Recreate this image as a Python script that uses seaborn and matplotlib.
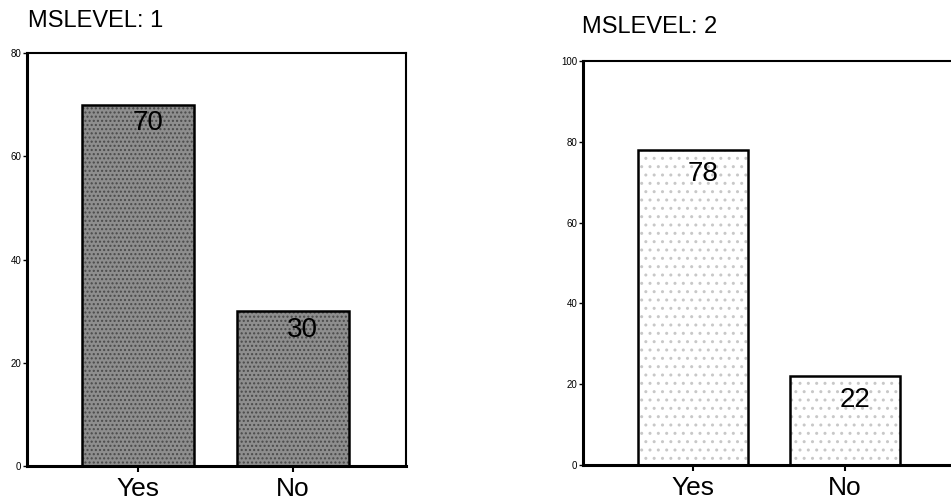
import matplotlib
matplotlib.use("Agg")
import matplotlib.pyplot as plt
import seaborn as sns
import pandas as pd

categories = ["Yes", "No"]
level1_values = [70, 30]
level2_values = [78, 22]
titles = ["MSLEVEL: 1", "MSLEVEL: 2"]
level1_yticks = [0, 20, 40, 60, 80]
level2_yticks = [0, 20, 40, 60, 80, 100]

sns.set_theme(style="white")
plt.rcParams["font.family"] = ["Liberation Sans", "DejaVu Sans"]
plt.rcParams["text.color"] = "black"

fig = plt.figure(figsize=(9.51, 5.04), dpi=100)
W, H = 951, 504

def axes_px(x0, x1, top, bottom):
    return fig.add_axes([x0 / W, 1 - bottom / H, (x1 - x0) / W, (bottom - top) / H])

ax1 = axes_px(27, 406, 53, 466)
ax2 = axes_px(583, 962, 61, 465)

panels = [
    (ax1, level1_values, level1_yticks, "#8e8e8e", "#4a4a4a", "....", (-0.716, 1.729), -4, (28, 27)),
    (ax2, level2_values, level2_yticks, "#ffffff", "#c8c8c8", "..", (-0.724, 1.77), -8, (582, 33)),
]

for (ax, vals, yt, face, hatchc, hatch, xl, dy, tpos), title in zip(panels, titles):
    df = pd.DataFrame({"cat": categories, "val": vals})
    # textured fill layer
    sns.barplot(data=df, x="cat", y="val", order=categories, ax=ax, width=0.72,
                color=face, saturation=1, edgecolor=hatchc, linewidth=0,
                hatch=hatch, errorbar=None)
    # outline layer
    sns.barplot(data=df, x="cat", y="val", order=categories, ax=ax, width=0.72,
                fill=False, edgecolor="black", linewidth=1.8, errorbar=None)
    ax.set_xlim(*xl)
    ax.set_ylim(yt[0], yt[-1])
    ax.set_yticks(yt)
    ax.set_xlabel("")
    ax.set_ylabel("")
    ax.tick_params(axis="y", labelsize=7, length=3, width=1, pad=1, left=True,
                   colors="black", labelcolor="black")
    ax.tick_params(axis="x", labelsize=19, length=4, width=1.5, pad=4, bottom=True,
                   colors="black", labelcolor="black")
    for sp in ax.spines.values():
        sp.set_visible(True)
        sp.set_color("black")
        sp.set_linewidth(1.5)
    ax.spines["left"].set_linewidth(2.2)
    ax.spines["bottom"].set_linewidth(2.2)
    for i, v in enumerate(vals):
        ax.annotate(f"{v}", xy=(i, v), xytext=(7, dy), textcoords="offset points",
                    ha="center", va="top", fontsize=20, color="black")
    fig.text(tpos[0] / W, 1 - tpos[1] / H, title, ha="left", va="baseline",
             fontsize=17, color="black")

fig.savefig("out.png", dpi=100)
